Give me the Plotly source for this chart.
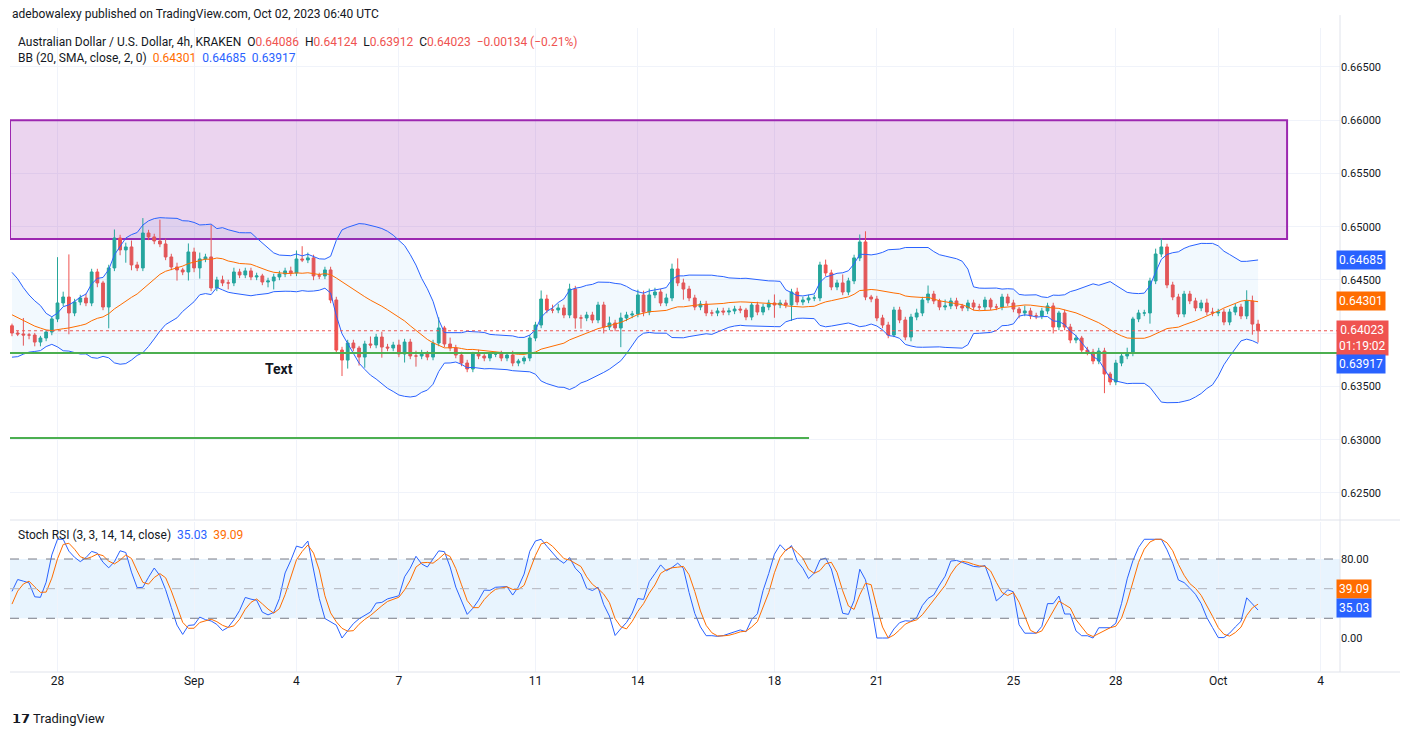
import numpy as np
import pandas as pd
import plotly.graph_objects as go

# ---------------- data ----------------
warmup_close = [0.6405,0.6410,0.6418,0.6412,0.6420,0.6428,0.6425,0.6435,0.6442,0.6438,
 0.6446,0.6452,0.6458,0.6465,0.6470,0.6468,0.6475,0.6472,0.6466,0.6470,
 0.6462,0.6455,0.6458,0.6448,0.6440,0.6432,0.6436,0.6425,0.6418,0.6410,
 0.6405,0.6412,0.6404,0.6400,0.6396,0.6402,0.6398,0.6401,0.6399,0.6407]

closes = [0.64002,0.63993,0.63983,0.63983,0.63917,0.63955,0.64011,0.64134,0.64284,0.64340,
 0.64190,0.64293,0.64331,0.64284,0.64575,0.64472,0.64246,0.64613,0.64894,0.64782,
 0.64810,0.64641,0.64613,0.64941,0.64904,0.64866,0.64838,0.64716,0.64622,0.64594,
 0.64575,0.64763,0.64613,0.64697,0.64716,0.64425,0.64500,0.64472,0.64472,0.64575,
 0.64547,0.64585,0.64528,0.64538,0.64481,0.64491,0.64528,0.64556,0.64585,0.64566,
 0.64697,0.64688,0.64707,0.64538,0.64538,0.64594,0.64312,0.63842,0.63748,0.63908,
 0.63861,0.63776,0.63899,0.63889,0.63964,0.63870,0.63861,0.63889,0.63805,0.63917,
 0.63786,0.63786,0.63814,0.63776,0.63908,0.64049,0.63899,0.63861,0.63795,0.63720,
 0.63664,0.63805,0.63786,0.63767,0.63805,0.63805,0.63767,0.63795,0.63720,0.63739,
 0.63767,0.63955,0.64077,0.64321,0.64218,0.64218,0.64237,0.64171,0.64415,0.64143,
 0.64143,0.64171,0.64124,0.64265,0.64058,0.64096,0.64049,0.64143,0.64171,0.64180,
 0.64359,0.64199,0.64359,0.64387,0.64284,0.64331,0.64603,0.64472,0.64415,0.64331,
 0.64246,0.64274,0.64190,0.64190,0.64209,0.64199,0.64209,0.64227,0.64218,0.64152,
 0.64265,0.64199,0.64246,0.64284,0.64265,0.64284,0.64265,0.64387,0.64293,0.64312,
 0.64331,0.64331,0.64641,0.64566,0.64434,0.64472,0.64387,0.64491,0.64707,0.64857,
 0.64340,0.64321,0.64143,0.64077,0.63983,0.64218,0.64124,0.63964,0.64152,0.64190,
 0.64312,0.64368,0.64303,0.64246,0.64256,0.64303,0.64256,0.64237,0.64284,0.64246,
 0.64246,0.64312,0.64246,0.64246,0.64340,0.64284,0.64227,0.64190,0.64209,0.64162,
 0.64162,0.64209,0.64256,0.64058,0.64190,0.64058,0.63936,0.63955,0.63842,0.63823,
 0.63739,0.63833,0.63617,0.63542,0.63720,0.63786,0.63814,0.64134,0.64190,0.64190,
 0.64491,0.64744,0.64810,0.64453,0.64340,0.64180,0.64368,0.64303,0.64237,0.64284,
 0.64199,0.64190,0.64199,0.64105,0.64199,0.64246,0.64162,0.64303,0.64086,0.64023]

wick_up_pips = [2,2,15,2,2,2,2,2,43,5, 40,3,3,4,3,3,2,3,8,3, 4,6,3,14,3,3,20,5,3,4,
 2,8,4,6,3,30,3,4,3,4, 3,3,3,3,2,3,3,3,3,4, 8,12,5,3,3,3,3,3,3,3,
 3,2,3,7,3,5,3,3,5,3, 3,5,3,2,3,10,2,6,3,3, 3,2,4,3,2,2,3,2,4,2,
 2,3,3,8,4,5,4,3,5,3, 3,3,3,3,3,6,3,5,3,3, 5,4,6,4,3,4,5,10,4,3,
 3,3,3,3,3,3,3,3,3,2, 2,3,3,3,8,3,3,3,4,3, 3,3,3,5,3,3,8,3,3,7,
 10,2,3,3,3,3,3,3,3,4, 3,8,3,2,6,3,3,2,3,3, 3,3,2,3,3,3,3,2,5,3,
 3,3,3,3,2,3,3,3,2,3, 3,3,3,2,3,3,5,2,3,3, 3,5,8,3,3,3,3,3,3,3,
 4,4,3,3,3,3,3,10,5,4]
wick_dn_pips = [3,2,10,4,4,4,3,3,3,3, 20,3,3,3,3,4,3,20,3,5, 12,5,3,3,3,3,3,3,3,10,
 3,8,4,10,3,3,3,3,6,3, 3,3,3,3,3,5,8,3,3,3, 3,2,3,4,3,3,3,3,15,8,
 3,8,10,3,3,10,3,3,3,8, 3,10,3,3,3,3,3,3,3,3, 3,3,3,3,3,3,3,3,3,3,
 3,3,3,3,3,3,3,3,3,10, 10,3,3,3,6,3,3,18,3,3, 3,4,3,3,3,3,3,3,10,3,
 3,3,3,3,3,3,3,3,3,3, 3,3,3,3,12,3,3,15,3,3, 3,3,3,3,3,3,3,3,3,3,
 3,3,3,3,3,2,3,3,4,3, 3,3,3,3,3,3,3,3,3,3, 3,3,3,3,3,3,3,5,3,3,
 3,3,3,6,3,3,3,3,3,3, 3,3,18,3,3,3,3,3,3,3, 10,3,3,3,3,3,3,3,3,3,
 3,3,3,3,3,3,3,3,10,11]

x_tick_dates = ["2023-08-28","2023-09-01","2023-09-04","2023-09-07","2023-09-11","2023-09-14",
                "2023-09-18","2023-09-21","2023-09-25","2023-09-28","2023-10-01","2023-10-04"]
x_tick_text = ["28","Sep","4","7","11","14","18","21","25","28","Oct","4"]
price_ticks = [0.625,0.630,0.635,0.640,0.645,0.650,0.655,0.660,0.665]
price_tick_text = ["0.62500","0.63000","0.63500","","0.64500","0.65000","0.65500","0.66000","0.66500"]

zone_top, zone_bottom = 0.6600, 0.64885
support_1, support_2 = 0.63815, 0.63016

# ---------------- build ----------------
all_close = np.array(warmup_close + closes)
n_w = len(warmup_close)
dates_all = pd.date_range(end="2023-10-02 04:00", periods=len(all_close), freq="4h")
dates = dates_all[n_w:]

opens = [warmup_close[-1]] + closes[:-1]
highs = [max(o, c) + u * 0.0001 for o, c, u in zip(opens, closes, wick_up_pips)]
lows = [min(o, c) - d * 0.0001 for o, c, d in zip(opens, closes, wick_dn_pips)]

s = pd.Series(all_close)
basis = s.rolling(20).mean()
sd = s.rolling(20).std(ddof=0)
upper = basis + 2 * sd
lower = basis - 2 * sd

delta = s.diff()
gain = delta.clip(lower=0)
loss = -delta.clip(upper=0)
ag = gain.ewm(alpha=1/14, adjust=False).mean()
al = loss.ewm(alpha=1/14, adjust=False).mean()
rsi = 100 - 100 / (1 + ag / al)
stoch = (rsi - rsi.rolling(14).min()) / (rsi.rolling(14).max() - rsi.rolling(14).min()) * 100
k = stoch.rolling(3).mean()
d = k.rolling(3).mean()

sl = slice(n_w, None)
up_v, lo_v, ba_v = upper[sl].values, lower[sl].values, basis[sl].values
k_v, d_v = k[sl].values, d[sl].values

fig = go.Figure()
fig.add_trace(go.Scatter(x=dates, y=up_v, mode="lines", line=dict(color="#2962FF", width=1), hoverinfo="skip", showlegend=False))
fig.add_trace(go.Scatter(x=dates, y=lo_v, mode="lines", line=dict(color="#2962FF", width=1), fill="tonexty",
                         fillcolor="rgba(33,150,243,0.06)", hoverinfo="skip", showlegend=False))
fig.add_trace(go.Scatter(x=dates, y=ba_v, mode="lines", line=dict(color="#FF6D00", width=1), hoverinfo="skip", showlegend=False))
fig.add_trace(go.Candlestick(x=dates, open=opens, high=highs, low=lows, close=closes,
                             increasing=dict(line=dict(color="#26A69A", width=1), fillcolor="#26A69A"),
                             decreasing=dict(line=dict(color="#EF5350", width=1), fillcolor="#EF5350"),
                             whiskerwidth=0, showlegend=False))
fig.add_trace(go.Scatter(x=dates, y=k_v, mode="lines", line=dict(color="#2962FF", width=1), xaxis="x2", yaxis="y2", showlegend=False))
fig.add_trace(go.Scatter(x=dates, y=d_v, mode="lines", line=dict(color="#FF6D00", width=1), xaxis="x2", yaxis="y2", showlegend=False))

W, H, T, B, L, R = 1400, 729, 20, 65, 2, 68
OFF = 8  # page offset in the screenshot
def py(ypix): return (H - B - (ypix - OFF)) / (H - T - B)
def px(xpix): return (xpix - OFF - L) / (W - L - R)

x0 = pd.Timestamp("2023-08-26 14:36")
x1 = pd.Timestamp("2023-10-04 13:36")
grid = "#F0F3FA"
fig.update_layout(
    width=W, height=H, margin=dict(l=L, r=R, t=T, b=B),
    paper_bgcolor="white", plot_bgcolor="white",
    font=dict(family="Roboto, Arial", color="#131722", size=12),
    xaxis=dict(domain=[0, 1], range=[x0, x1], anchor="y", rangeslider=dict(visible=False),
               showticklabels=False, tickvals=x_tick_dates, showgrid=True, gridcolor=grid),
    yaxis=dict(domain=[py(520), 1], range=[0.62246, 0.66866], side="right", tickvals=price_ticks,
               ticktext=price_tick_text, showgrid=True, gridcolor=grid, zeroline=False, tickfont=dict(size=11)),
    xaxis2=dict(domain=[0, 1], range=[x0, x1], anchor="y2", matches="x", tickvals=x_tick_dates,
                ticktext=x_tick_text, showgrid=True, gridcolor=grid, tickfont=dict(size=12), ticks=""),
    yaxis2=dict(domain=[0, py(522)], range=[-34.4, 117.5], side="right", tickvals=[0, 80],
                ticktext=["0.00", "80.00"], showgrid=False, zeroline=False, tickfont=dict(size=11)),
)

shapes = [
    dict(type="rect", xref="x", yref="y", x0=x0, x1=pd.Timestamp("2023-10-03 00:24"), y0=zone_bottom, y1=zone_top,
         fillcolor="rgba(156,39,176,0.2)", line=dict(color="#9C27B0", width=2), layer="between"),
    dict(type="line", xref="paper", yref="y", x0=0, x1=1, y0=support_1, y1=support_1, line=dict(color="#4CAF50", width=2)),
    dict(type="line", xref="x", yref="y", x0=x0, x1=pd.Timestamp("2023-09-19 00:20"), y0=support_2, y1=support_2,
         line=dict(color="#4CAF50", width=2)),
    dict(type="line", xref="paper", yref="y", x0=0, x1=1, y0=closes[-1], y1=closes[-1], line=dict(color="#EF5350", width=1, dash="dot")),
    dict(type="rect", xref="paper", yref="y2", x0=0, x1=1, y0=20, y1=80, fillcolor="rgba(33,150,243,0.1)", line=dict(width=0), layer="below"),
    dict(type="line", xref="paper", yref="y2", x0=0, x1=1, y0=80, y1=80, line=dict(color="#787B86", width=1, dash="dash")),
    dict(type="line", xref="paper", yref="y2", x0=0, x1=1, y0=50, y1=50, line=dict(color="#B2B5BE", width=1, dash="dash")),
    dict(type="line", xref="paper", yref="y2", x0=0, x1=1, y0=20, y1=20, line=dict(color="#787B86", width=1, dash="dash")),
    dict(type="line", xref="paper", yref="paper", x0=0, x1=1.05, y0=py(520), y1=py(520), line=dict(color="#E0E3EB", width=1)),
    dict(type="line", xref="paper", yref="paper", x0=0, x1=1.05, y0=0, y1=0, line=dict(color="#E0E3EB", width=1)),
    dict(type="line", xref="paper", yref="paper", x0=1, x1=1, y0=0, y1=1.02, line=dict(color="#E0E3EB", width=1)),
]
fig.update_layout(shapes=shapes)

def tag(yref, y, text, color, yshift=0):
    return dict(xref="paper", yref=yref, x=1, y=y, xanchor="left", yanchor="middle", text=text, showarrow=False,
                bgcolor=color, font=dict(color="white", size=12), borderpad=2, xshift=-4, yshift=yshift)

ann = [
    dict(xref="paper", yref="paper", x=px(10), y=py(14), xanchor="left", yanchor="middle", showarrow=False,
         text="adebowalexy published on TradingView.com, Oct 02, 2023 06:40 UTC", font=dict(size=12, color="#131722")),
    dict(xref="paper", yref="paper", x=px(16), y=py(42), xanchor="left", yanchor="middle", showarrow=False,
         text="Australian Dollar / U.S. Dollar, 4h, KRAKEN  O<span style='color:#EF5350'>0.64086</span>  H<span style='color:#EF5350'>0.64124</span>  L<span style='color:#EF5350'>0.63912</span>  C<span style='color:#EF5350'>0.64023  −0.00134 (−0.21%)</span>",
         font=dict(size=12, color="#131722")),
    dict(xref="paper", yref="paper", x=px(16), y=py(58), xanchor="left", yanchor="middle", showarrow=False,
         text="BB (20, SMA, close, 2, 0)  <span style='color:#FF6D00'>0.64301</span>  <span style='color:#2962FF'>0.64685</span>  <span style='color:#2962FF'>0.63917</span>",
         font=dict(size=12, color="#131722")),
    dict(xref="paper", yref="paper", x=px(16), y=py(535), xanchor="left", yanchor="middle", showarrow=False,
         text="Stoch RSI (3, 3, 14, 14, close)  <span style='color:#2962FF'>35.03</span>  <span style='color:#FF6D00'>39.09</span>",
         font=dict(size=12, color="#131722")),
    dict(xref="paper", yref="paper", x=px(263), y=py(369), xanchor="left", yanchor="middle", showarrow=False,
         text="<b>Text</b>", font=dict(size=14, color="#131722")),
    dict(xref="paper", yref="paper", x=px(10), y=py(718), xanchor="left", yanchor="middle", showarrow=False,
         text="<b>𝟭𝟳</b> TradingView", font=dict(size=13, color="#131722")),
    tag("y", 0.64685, "0.64685", "#2962FF"),
    tag("y", 0.64301, "0.64301", "#FF6D00"),
    tag("y", 0.64023, "0.64023<br>01:19:02", "#EF5350", yshift=-7),
    tag("y", 0.63917, "0.63917", "#2962FF", yshift=-22),
    tag("y2", 39.09, "39.09", "#FF6D00", yshift=10),
    tag("y2", 35.03, "35.03", "#2962FF", yshift=-5),
]
fig.update_layout(annotations=ann)
fig.write_html("out.html")
